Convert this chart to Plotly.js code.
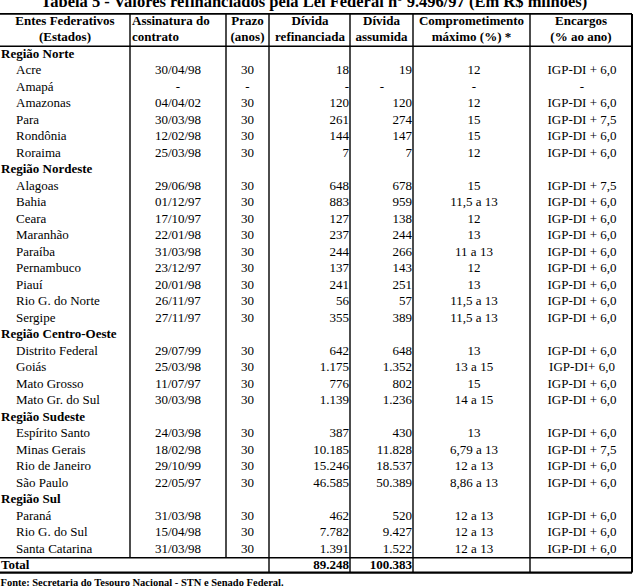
<!DOCTYPE html>
<html>
<head>
<meta charset="utf-8">
<script src="https://cdn.plot.ly/plotly-3.0.1.min.js"></script>
<style>html,body{margin:0;padding:0;background:#fff;}#chart{width:635px;height:587px;}</style>
</head>
<body>
<div id="chart"></div>
<script>
// ---------------- DATA ----------------
const titleText = 'Tabela 5 - Valores refinanciados pela Lei Federal nº 9.496/97 (Em R$ milhões)';
const headerLine1 = ['Entes Federativos', 'Assinatura do', 'Prazo', 'Dívida', 'Dívida', 'Comprometimento', 'Encargos'];
const headerLine2 = ['(Estados)', 'contrato', '(anos)', 'refinanciada', 'assumida', 'máximo (%) *', '(% ao ano)'];

const regions = ['Região Norte', 'Região Nordeste', 'Região Centro-Oeste', 'Região Sudeste', 'Região Sul'];
const regionSizes = [6, 9, 4, 4, 3];

const estados = ['Acre', 'Amapá', 'Amazonas', 'Para', 'Rondônia', 'Roraima',
  'Alagoas', 'Bahia', 'Ceara', 'Maranhão', 'Paraíba', 'Pernambuco', 'Piauí', 'Rio G. do Norte', 'Sergipe',
  'Distrito Federal', 'Goiás', 'Mato Grosso', 'Mato Gr. do Sul',
  'Espírito Santo', 'Minas Gerais', 'Rio de Janeiro', 'São Paulo',
  'Paraná', 'Rio G. do Sul', 'Santa Catarina'];
const assinatura = ['30/04/98', '-', '04/04/02', '30/03/98', '12/02/98', '25/03/98',
  '29/06/98', '01/12/97', '17/10/97', '22/01/98', '31/03/98', '23/12/97', '20/01/98', '26/11/97', '27/11/97',
  '29/07/99', '25/03/98', '11/07/97', '30/03/98',
  '24/03/98', '18/02/98', '29/10/99', '22/05/97',
  '31/03/98', '15/04/98', '31/03/98'];
const prazo = [30, null, 30, 30, 30, 30,
  30, 30, 30, 30, 30, 30, 30, 30, 30,
  30, 30, 30, 30,
  30, 30, 30, 30,
  30, 30, 30];
const dividaRefinanciada = [18, null, 120, 261, 144, 7,
  648, 883, 127, 237, 244, 137, 241, 56, 355,
  642, 1175, 776, 1139,
  387, 10185, 15246, 46585,
  462, 7782, 1391];
const dividaAssumida = [19, null, 120, 274, 147, 7,
  678, 959, 138, 244, 266, 143, 251, 57, 389,
  648, 1352, 802, 1236,
  430, 11828, 18537, 50389,
  520, 9427, 1522];
const comprometimento = ['12', '-', '12', '15', '15', '12',
  '15', '11,5 a 13', '12', '13', '11 a 13', '12', '13', '11,5 a 13', '11,5 a 13',
  '13', '13 a 15', '15', '14 a 15',
  '13', '6,79 a 13', '12 a 13', '8,86 a 13',
  '12 a 13', '12 a 13', '12 a 13'];
const encargos = ['IGP-DI + 6,0', '-', 'IGP-DI + 6,0', 'IGP-DI + 7,5', 'IGP-DI + 6,0', 'IGP-DI + 6,0',
  'IGP-DI + 7,5', 'IGP-DI + 6,0', 'IGP-DI + 6,0', 'IGP-DI + 6,0', 'IGP-DI + 6,0', 'IGP-DI + 6,0', 'IGP-DI + 6,0', 'IGP-DI + 6,0', 'IGP-DI + 6,0',
  'IGP-DI + 6,0', 'IGP-DI+ 6,0', 'IGP-DI + 6,0', 'IGP-DI + 6,0',
  'IGP-DI + 6,0', 'IGP-DI + 7,5', 'IGP-DI + 6,0', 'IGP-DI + 6,0',
  'IGP-DI + 6,0', 'IGP-DI + 6,0', 'IGP-DI + 6,0'];
const totalLabel = 'Total';
const totalRefinanciada = 89248;
const totalAssumida = 100383;
const fonteText = 'Fonte: Secretaria do Tesouro Nacional - STN e Senado Federal.';

// ---------------- LAYOUT CONSTANTS ----------------
const W = 635, H = 587;
const ROW0_PX = 54.5, ROW_H = 16.5;
const colEdges = [0, 130, 226, 269, 350, 413, 530, 632];
const FONT = 'Liberation Serif, Times New Roman, serif';
const FS = 13;

function fmt(v) {
  if (v === null || v === undefined) return '-';
  return String(v).replace(/\B(?=(\d{3})+(?!\d))/g, '.');
}

// build row indices
const regionRows = [], stateRows = [];
let r = 0, k = 0;
regions.forEach((reg, i) => {
  regionRows.push(r); r++;
  for (let j = 0; j < regionSizes[i]; j++) { stateRows.push(r); r++; k++; }
});
const totalRow = r;           // 31
const fonteRow = totalRow + 1.05;

function textTrace(xs, ys, texts, pos, opts) {
  opts = opts || {};
  return {
    type: 'scatter', mode: 'text',
    x: xs, y: ys, text: texts, textposition: pos,
    textfont: { family: FONT, size: opts.size || FS, color: '#000' },
    cliponaxis: false, hoverinfo: 'skip', showlegend: false
  };
}
const rep = (v, n) => Array(n).fill(v);
const nS = stateRows.length;

const traces = [];
// header
const hdrAnchor = [65, 132, 247.5, 310, 381.5, 471.5, 581];
const hdrPos = ['middle center', 'middle right', 'middle center', 'middle center', 'middle center', 'middle center', 'middle center'];
traces.push(textTrace(hdrAnchor, rep(-2, 7), headerLine1.map(t => '<b>' + t + '</b>'), hdrPos));
traces.push(textTrace(hdrAnchor, rep(-1, 7), headerLine2.map(t => '<b>' + t + '</b>'), hdrPos));
// region names
traces.push(textTrace(rep(1, regions.length), regionRows, regions.map(t => '<b>' + t + '</b>'), 'middle right'));
// states
traces.push(textTrace(rep(16, nS), stateRows, estados, 'middle right'));
traces.push(textTrace(rep(178, nS), stateRows, assinatura, 'middle center'));
traces.push(textTrace(rep(247.5, nS), stateRows, prazo.map(fmt), 'middle center'));
traces.push(textTrace(rep(349, nS), stateRows, dividaRefinanciada.map(fmt), 'middle left'));
traces.push(textTrace(dividaAssumida.map(v => v === null ? 382 : 412), stateRows, dividaAssumida.map(fmt),
  dividaAssumida.map(v => v === null ? 'middle center' : 'middle left')));
traces.push(textTrace(rep(474, nS), stateRows, comprometimento, 'middle center'));
traces.push(textTrace(rep(582, nS), stateRows, encargos, 'middle center'));
// total
traces.push(textTrace([1, 349, 412], [totalRow, totalRow, totalRow],
  ['<b>' + totalLabel + '</b>', '<b>' + fmt(totalRefinanciada) + '</b>', '<b>' + fmt(totalAssumida) + '</b>'],
  ['middle right', 'middle left', 'middle left']));
// source
traces.push(textTrace([0.5], [fonteRow], ['<b>' + fonteText + '</b>'], 'middle right', { size: 10.5 }));

// ---------------- SHAPES (table rules) ----------------
const hdrTop = -2.46, hdrBot = -0.5, totTop = totalRow - 0.5, totBot = totalRow + 0.4;
const LINE = { color: '#000', width: 1.4 };
const shapes = [];
function hline(y, w) { shapes.push({ type: 'line', xref: 'x', yref: 'y', x0: colEdges[0], x1: colEdges[colEdges.length - 1], y0: y, y1: y, line: { color: '#000', width: w || LINE.width } }); }
function vline(x, y0, y1, w) { shapes.push({ type: 'line', xref: 'x', yref: 'y', x0: x, x1: x, y0: y0, y1: y1, line: { color: '#000', width: w || LINE.width } }); }
hline(hdrTop, 1.6); hline(hdrBot, 1.6); hline(totTop, 1.6); hline(totBot, 2.2);
vline(colEdges[1], hdrTop, totTop);
vline(colEdges[2], hdrTop, totTop);
for (let i = 3; i < colEdges.length - 1; i++) vline(colEdges[i], hdrTop, totBot);
vline(colEdges[colEdges.length - 1], hdrTop, totBot, 2);

const layout = {
  width: W, height: H,
  margin: { l: 0, r: 0, t: 0, b: 0 },
  paper_bgcolor: '#fff', plot_bgcolor: '#fff',
  font: { family: FONT, size: FS, color: '#000' },
  title: {
    text: '<b>' + titleText + '</b>',
    x: 314 / W, xanchor: 'center', xref: 'container',
    y: 1 - 1.5 / H, yanchor: 'middle', yref: 'container',
    font: { family: FONT, size: 16.5, color: '#000' }
  },
  xaxis: { range: [0, W], visible: false, fixedrange: true },
  yaxis: { range: [(H - ROW0_PX) / ROW_H, -ROW0_PX / ROW_H], visible: false, fixedrange: true },
  shapes: shapes,
  showlegend: false,
  hovermode: false
};

Plotly.newPlot('chart', traces, layout, { staticPlot: true, displayModeBar: false });
</script>
</body>
</html>
